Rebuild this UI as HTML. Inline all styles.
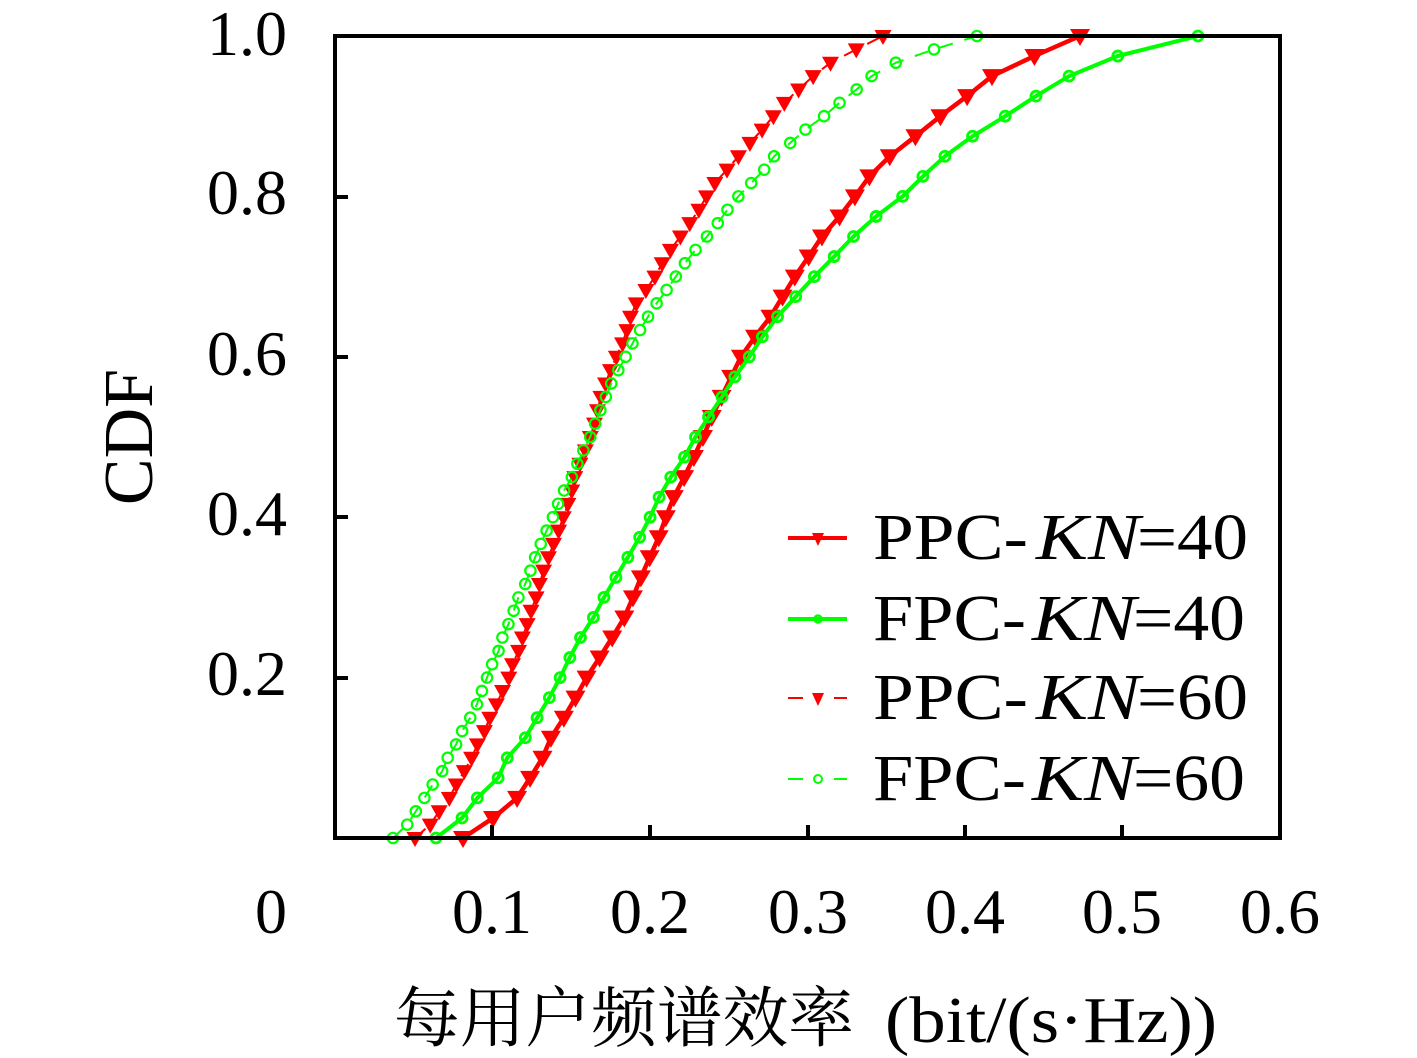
<!DOCTYPE html>
<html>
<head>
<meta charset="utf-8">
<style>
  html,body{margin:0;padding:0;background:#fff;}
  svg{display:block;}
  text{font-family:"Liberation Serif","Noto Serif CJK SC",serif;fill:#000;}
  .cjk{font-family:"Noto Serif CJK SC","Noto Sans CJK SC",serif;}
</style>
</head>
<body>
<svg id="s" width="1417" height="1058" viewBox="0 0 1417 1058" xmlns="http://www.w3.org/2000/svg">
  <rect x="0" y="0" width="1417" height="1058" fill="#fff"/>

  <!-- y tick labels -->
  <g font-size="64" text-anchor="end">
    <text x="287" y="55">1.0</text>
    <text x="287" y="214">0.8</text>
    <text x="287" y="375">0.6</text>
    <text x="287" y="535">0.4</text>
    <text x="287" y="695">0.2</text>
  </g>
  <!-- x tick labels -->
  <g font-size="64" text-anchor="middle">
    <text x="271" y="933">0</text>
    <text x="492" y="933">0.1</text>
    <text x="650" y="933">0.2</text>
    <text x="808" y="933">0.3</text>
    <text x="965" y="933">0.4</text>
    <text x="1122" y="933">0.5</text>
    <text x="1280" y="933">0.6</text>
  </g>

  <!-- y label -->
  <text font-size="70" text-anchor="middle" transform="translate(152,437) rotate(-90)">CDF</text>

  <!-- x label -->
  <text class="cjk" x="394" y="1041" font-size="66" textLength="460" lengthAdjust="spacingAndGlyphs">每用户频谱效率</text>
  <text x="885" y="1042" font-size="66" textLength="332" lengthAdjust="spacingAndGlyphs">(bit/(s·Hz))</text>

  <!-- curves -->
  <g id="plot"></g>

  <!-- frame -->
  <rect x="335" y="36" width="945" height="802" fill="none" stroke="#000" stroke-width="4"/>
  <g stroke="#000" stroke-width="4">
    <line x1="335" y1="197" x2="348" y2="197"/>
    <line x1="335" y1="357" x2="348" y2="357"/>
    <line x1="335" y1="517" x2="348" y2="517"/>
    <line x1="335" y1="678" x2="348" y2="678"/>
    <line x1="492" y1="838" x2="492" y2="825"/>
    <line x1="650" y1="838" x2="650" y2="825"/>
    <line x1="808" y1="838" x2="808" y2="825"/>
    <line x1="965" y1="838" x2="965" y2="825"/>
    <line x1="1122" y1="838" x2="1122" y2="825"/>
  </g>

  <!-- legend -->
  <g>
    <line x1="788" y1="538" x2="847" y2="538" stroke="#ff0000" stroke-width="4"/>
    <polygon points="812,533 824,533 818,546" fill="#ff0000"/>
    <line x1="788" y1="619" x2="847" y2="619" stroke="#00ff00" stroke-width="4"/>
    <circle cx="818" cy="619" r="3.5" fill="none" stroke="#00ff00" stroke-width="2.5"/>
    <line x1="788" y1="698" x2="803" y2="698" stroke="#ff0000" stroke-width="2"/>
    <line x1="834" y1="698" x2="847" y2="698" stroke="#ff0000" stroke-width="2"/>
    <polygon points="812,693 824,693 818,706" fill="#ff0000"/>
    <line x1="788" y1="779" x2="803" y2="779" stroke="#00ff00" stroke-width="2"/>
    <line x1="834" y1="779" x2="847" y2="779" stroke="#00ff00" stroke-width="2"/>
    <circle cx="818" cy="779" r="4" fill="none" stroke="#00ff00" stroke-width="2"/>
  </g>
  <g font-size="66">
    <text x="873" y="559" textLength="155" lengthAdjust="spacingAndGlyphs">PPC-</text>
    <text x="1036" y="559" font-style="italic" textLength="104" lengthAdjust="spacingAndGlyphs">KN</text>
    <text x="1137" y="559" textLength="111" lengthAdjust="spacingAndGlyphs">=40</text>

    <text x="873" y="640" textLength="153" lengthAdjust="spacingAndGlyphs">FPC-</text>
    <text x="1032" y="640" font-style="italic" textLength="104" lengthAdjust="spacingAndGlyphs">KN</text>
    <text x="1133" y="640" textLength="112" lengthAdjust="spacingAndGlyphs">=40</text>

    <text x="873" y="719" textLength="155" lengthAdjust="spacingAndGlyphs">PPC-</text>
    <text x="1036" y="719" font-style="italic" textLength="104" lengthAdjust="spacingAndGlyphs">KN</text>
    <text x="1137" y="719" textLength="111" lengthAdjust="spacingAndGlyphs">=60</text>

    <text x="873" y="800" textLength="153" lengthAdjust="spacingAndGlyphs">FPC-</text>
    <text x="1032" y="800" font-style="italic" textLength="104" lengthAdjust="spacingAndGlyphs">KN</text>
    <text x="1133" y="800" textLength="112" lengthAdjust="spacingAndGlyphs">=60</text>
  </g>
</svg>
<script>
(function(){
  var NS="http://www.w3.org/2000/svg";
  var series=[
    {N:40,color:"#ff0000",lw:4.5,dash:null,marker:"tri",w:10,h1:7,h2:10,
     a:[[838,463],[818,493],[798,517],[778,530],[757,543],[735,552],[716,565],[695,577],[675,588],[654,602],[633,615],[613,627],[592,635],[572,643],[550,653],[530,662],[510,668],[490,677],[470,688],[448,698],[428,707],[407,716],[387,727],[365,736],[345,748],[325,765],[305,778],[283,790],[263,805],[242,817],[222,835],[201,852],[182,864],[160,885],[139,912],[118,938],[98,965],[78,988],[58,1030],[36,1080]]},
    {N:40,color:"#00ff00",lw:4,dash:null,marker:"circ",r:5,sw:2.8,
     a:[[838,436],[818,462],[797,478],[777,499],[756,508],[736,527],[716,538],[695,551],[674,562],[653,572],[633,583],[612,597],[591,607],[571,620],[550,632],[530,644],[509,654],[488,663],[467,678],[447,691],[427,700],[407,717],[387,727],[365,744],[345,757],[325,770],[303,790],[283,808],[263,828],[242,848],[222,868],[202,897],[181,918],[160,940],[139,968],[119,1001],[98,1033],[77,1067],[57,1114],[36,1198]]},
    {N:60,color:"#ff0000",lw:2,dash:"14 12",marker:"tri",w:8.5,h1:6,h2:9,
     a:[[838,415],[825,430],[810,440],[797,450],[783,457],[770,465],[757,472],[743,478],[730,485],[717,490],[703,497],[690,503],[675,510],[662,513],[648,520],[635,523],[622,528],[607,532],[593,538],[580,540],[567,545],[553,550],[540,555],[527,560],[512,565],[498,570],[485,573],[472,576],[457,583],[443,588],[430,593],[417,596],[403,599],[390,603],[377,608],[363,613],[350,620],[337,625],[322,629],[308,633],[295,642],[282,652],[267,660],[253,668],[240,678],[227,687],[213,697],[199,705],[185,713],[172,725],[158,737],[145,748],[132,760],[118,772],[105,782],[90,798],[77,812],[63,830],[50,855],[36,883]]},
    {N:60,color:"#00ff00",lw:2,dash:"14 12",marker:"circ",r:5.2,sw:2.2,
     a:[[838,393],[825,407],[811,416],[797,425],[784,433],[770,443],[757,448],[743,457],[729,463],[715,472],[702,478],[688,483],[675,488],[662,493],[648,500],[635,503],[621,510],[607,515],[593,520],[581,527],[566,532],[552,537],[539,543],[525,549],[513,555],[498,560],[485,567],[472,575],[458,579],[444,587],[431,593],[417,597],[403,604],[390,608],[376,615],[362,623],[348,630],[335,637],[322,645],[308,653],[295,663],[281,673],[267,682],[254,692],[240,704],[227,715],[213,725],[200,735],[186,748],[173,762],[158,772],[145,788],[132,802],[118,822],[104,838],[91,855],[77,870],[63,895],[50,932],[36,977]]}
  ];
  function interp(a,y){
    if(y>=a[0][0]) return a[0][1];
    for(var i=0;i<a.length-1;i++){
      var y0=a[i][0],x0=a[i][1],y1=a[i+1][0],x1=a[i+1][1];
      if(y<=y0&&y>=y1){var t=(y0-y)/((y0-y1)||1);return x0+t*(x1-x0);}
    }
    return a[a.length-1][1];
  }
  var g=document.getElementById("plot");
  series.forEach(function(s){
    var pts=[];
    for(var i=0;i<=s.N;i++){
      var y=838-i*802/s.N;
      pts.push([interp(s.a,y),y]);
    }
    var pl=document.createElementNS(NS,"polyline");
    pl.setAttribute("points",pts.map(function(p){return p[0].toFixed(1)+","+p[1].toFixed(1);}).join(" "));
    pl.setAttribute("fill","none");
    pl.setAttribute("stroke",s.color);
    pl.setAttribute("stroke-width",s.lw);
    pl.setAttribute("stroke-linejoin","round");
    if(s.dash) pl.setAttribute("stroke-dasharray",s.dash);
    g.appendChild(pl);
    pts.forEach(function(p){
      var m;
      if(s.marker==="tri"){
        m=document.createElementNS(NS,"polygon");
        m.setAttribute("points",(p[0]-s.w)+","+(p[1]-s.h1)+" "+(p[0]+s.w)+","+(p[1]-s.h1)+" "+p[0]+","+(p[1]+s.h2));
        m.setAttribute("fill",s.color);
      }else{
        m=document.createElementNS(NS,"circle");
        m.setAttribute("cx",p[0]);m.setAttribute("cy",p[1]);m.setAttribute("r",s.r);
        m.setAttribute("fill","none");m.setAttribute("stroke",s.color);m.setAttribute("stroke-width",s.sw);
      }
      g.appendChild(m);
    });
  });
})();
</script>
</body>
</html>
